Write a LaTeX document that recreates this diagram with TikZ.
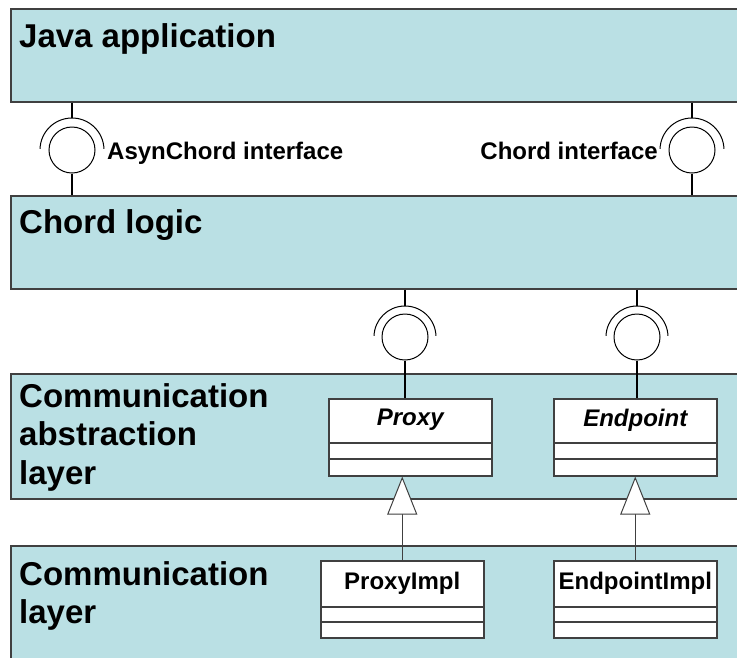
\documentclass[tikz,border=0pt]{standalone}
\usepackage{fontspec}
\setmainfont{Liberation Sans}
\usetikzlibrary{arrows.meta,calc}
\definecolor{layerfill}{RGB}{186,224,228}
\definecolor{edgegray}{RGB}{64,64,64}

\begin{document}
\begin{tikzpicture}[x=1pt,y=-1pt]
    \tikzset{
      layer/.style={draw=edgegray, line width=1.5pt, fill=layerfill, anchor=north west, inner sep=0pt, minimum width=735pt},
      layertext/.style={anchor=base west, inner sep=0pt, align=left, font=\fontsize{33}{38.5}\selectfont\bfseries},
      ball/.style={draw=black, line width=1pt, circle, minimum size=46pt, inner sep=0pt},
      socket/.style={draw=black, line width=1pt},
      wire/.style={draw=black, line width=2pt},
      classbox/.style={draw=edgegray, line width=1.5pt, fill=white, anchor=north west, inner sep=0pt, minimum width=163pt, minimum height=77pt},
      classline/.style={draw=edgegray, line width=1.5pt},
      classtext/.style={inner sep=0pt, font=\fontsize{24}{28}\selectfont\bfseries},
      iftext/.style={inner sep=0pt, font=\fontsize{24}{28}\selectfont\bfseries},
      inherit/.style={draw=edgegray, line width=1.5pt, -{Triangle[length=38pt, width=30pt, fill=white, line width=1pt]}}
    }
    \path[use as bounding box, clip] (0,0) rectangle (737,657);
    \fill[white] (0,0) rectangle (737,657);

    % layers
    \node[layer, minimum height=93pt] (java) at (10,8) {};
    \node[layer, minimum height=93pt] (chord) at (10,195) {};
    \node[layer, minimum height=125pt] (abstr) at (10,373) {};
    \node[layer, minimum height=125pt] (comm) at (10,545) {};
    \node[layertext] (javatext) at (19,47) {Java application};
    \node[layertext] (chordtext) at (19,233) {Chord logic};
    \node[layertext] (abstrtext) at (19,484) {Communication\\abstraction\\layer};
    \node[layertext] (commtext) at (19,623.5) {Communication\\layer};

    % interfaces between application and chord logic
    \node[ball] (asynball) at (72,150) {};
    \node[ball] (chordball) at (692,150) {};
    \foreach \b in {asynball,chordball} {
      \draw[socket] ([shift={(-2:32)}]\b.center) arc[start angle=-2, end angle=-178, radius=32];
      \draw[wire] (java.south -| \b) -- ($(\b.center)+(0,-32)$);
      \draw[wire] (\b.south) -- (chord.north -| \b);
    }
    \node[iftext, anchor=base west] (asynlabel) at (107,159) {AsynChord interface};
    \node[iftext, anchor=base east] (chordlabel) at (658,159) {Chord interface};

    % classes
    \node[classbox] (proxy) at (328,398) {};
    \node[classbox] (endpoint) at (553,398) {};
    \node[classbox] (proxyimpl) at (320,560) {};
    \node[classbox] (endpointimpl) at (553,560) {};
    \node[classtext, font=\fontsize{24}{28}\selectfont\bfseries\itshape] (proxyname) at ($(proxy.north)+(0,22)$) {Proxy};
    \node[classtext, font=\fontsize{24}{28}\selectfont\bfseries\itshape] (endpointname) at ($(endpoint.north)+(0,22)$) {Endpoint};
    \node[classtext] (proxyimplname) at ($(proxyimpl.north)+(0,23)$) {ProxyImpl};
    \node[classtext] (endpointimplname) at ($(endpointimpl.north)+(0,23)$) {EndpointImpl};
    \foreach \c in {proxy,endpoint} {
      \draw[classline] ($(\c.north west)+(0,45)$) -- ($(\c.north east)+(0,45)$);
      \draw[classline] ($(\c.north west)+(0,61)$) -- ($(\c.north east)+(0,61)$);
    }
    \foreach \c in {proxyimpl,endpointimpl} {
      \draw[classline] ($(\c.north west)+(0,47)$) -- ($(\c.north east)+(0,47)$);
      \draw[classline] ($(\c.north west)+(0,62)$) -- ($(\c.north east)+(0,62)$);
    }

    % interfaces offered by the abstraction layer
    \node[ball] (proxyball) at (405,337) {};
    \node[ball] (endpointball) at (637,337) {};
    \foreach \b/\c in {proxyball/proxy,endpointball/endpoint} {
      \draw[socket] ([shift={(-2:31)}]\b.center) arc[start angle=-2, end angle=-178, radius=31];
      \draw[wire] (chord.south -| \b) -- ($(\b.center)+(0,-31)$);
      \draw[wire] (\b.south) -- (\c.north -| \b);
    }

    % generalisation
    \draw[inherit] (proxyimpl.north) -- (proxyimpl.north |- proxy.south);
    \draw[inherit] (endpointimpl.north) -- (endpointimpl.north |- endpoint.south);
\end{tikzpicture}
\end{document}
